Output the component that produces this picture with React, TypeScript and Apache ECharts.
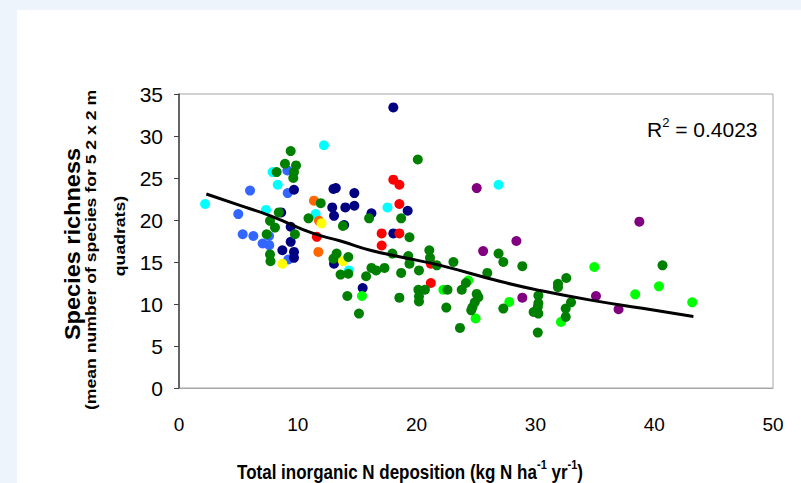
import React, { useEffect, useRef } from "react";
import * as echarts from "echarts";

type Pt = [number, number];

// Points, grouped by marker colour
const lightBluePoints: Pt[] = [
  [5.98, 23.5], [4.99, 20.7], [5.36, 18.3], [6.26, 18.1], [9.12, 25.9], [9.15, 23.2],
  [7.58, 18.1], [7.04, 17.2], [7.6, 17.0], [9.2, 15.3],
];
const navyPoints: Pt[] = [
  [8.6, 20.9], [9.68, 23.6], [9.4, 19.2], [13.0, 23.7], [13.2, 23.8], [12.9, 21.5],
  [13.05, 20.5], [14.0, 21.5], [14.76, 23.2], [14.76, 21.7], [13.9, 19.4], [16.2, 20.8],
  [8.7, 16.4], [9.4, 17.4], [9.68, 16.2], [9.68, 15.5], [13.05, 14.8], [15.46, 11.9],
  [18.04, 33.4], [19.25, 21.1], [18.04, 18.4],
];
const cyanPoints: Pt[] = [
  [2.2, 21.9], [7.32, 21.2], [7.88, 25.7], [8.31, 24.2], [12.2, 28.9], [11.5, 20.7],
  [14.3, 14.0], [17.55, 21.5], [26.9, 24.2],
];
const orangePoints: Pt[] = [[11.36, 22.3], [11.78, 19.9], [11.73, 16.2]];
const yellowPoints: Pt[] = [[12.0, 19.6], [8.7, 14.8], [13.8, 15.1]];
const redPoints: Pt[] = [
  [11.6, 18.0], [18.04, 24.8], [18.55, 24.2], [18.55, 21.9], [17.06, 18.4], [18.55, 18.4],
  [17.06, 16.96], [21.2, 14.8], [21.2, 12.5],
];
const purplePoints: Pt[] = [
  [25.06, 23.8], [28.4, 17.5], [25.6, 16.3], [28.9, 10.75], [38.75, 19.8], [35.1, 10.95], [37.0, 9.37],
];
const brightGreenPoints: Pt[] = [
  [15.4, 10.95], [22.25, 11.7], [24.35, 12.8], [24.97, 8.27], [27.8, 10.25], [34.96, 14.4],
  [40.4, 12.1], [38.4, 11.15], [43.2, 10.2], [32.15, 7.87],
];
const greenPoints: Pt[] = [
  [8.4, 20.9], [7.66, 19.9], [8.08, 19.1], [9.76, 18.3], [7.38, 18.3], [8.22, 25.7],
  [8.92, 26.7], [9.4, 28.2], [9.85, 26.5], [9.68, 25.7], [9.62, 25.0], [11.93, 22.0],
  [10.9, 20.2], [13.8, 19.3], [16.0, 20.2], [7.66, 15.9], [7.7, 15.1], [13.27, 16.0],
  [13.0, 15.4], [14.25, 15.6], [14.25, 13.6], [13.6, 13.5], [14.17, 10.95], [15.15, 8.86],
  [15.75, 13.3], [20.1, 27.2], [18.7, 20.2], [19.4, 17.95], [17.96, 16.0], [19.3, 15.7],
  [21.07, 16.4], [21.13, 15.5], [19.4, 14.8], [21.7, 14.6], [23.1, 15.0], [26.9, 16.0],
  [27.3, 15.0], [28.9, 14.5], [25.95, 13.7], [16.2, 14.3], [16.6, 14.0], [17.3, 14.3],
  [18.7, 13.7], [20.2, 14.0], [20.15, 11.7], [20.7, 11.7], [20.2, 10.9], [20.2, 10.3],
  [22.6, 11.7], [23.8, 11.7], [24.15, 12.5], [25.06, 11.2], [25.2, 10.8], [24.9, 10.2],
  [24.7, 9.6], [24.6, 9.25], [22.5, 9.57], [23.65, 7.15], [18.55, 10.75], [27.3, 9.45],
  [30.25, 11.0], [29.85, 9.05], [30.2, 6.6], [40.7, 14.6], [32.6, 13.1], [31.9, 12.4],
  [31.9, 12.0], [33.0, 10.2], [32.55, 9.45], [32.55, 8.46], [30.25, 10.1], [30.2, 9.65],
  [30.25, 8.86],
];

// Fitted trend line
const trendX = [2.3, 5.0, 7.7, 11.3, 13.6, 16.1, 19.0, 22.0, 27.0, 30.4, 34.9, 39.0, 43.3];
const trendY = [23.1, 21.8, 20.5, 18.4, 17.5, 16.4, 15.5, 14.6, 12.7, 11.6, 10.4, 9.5, 8.5];

const xTicks = { min: 0, max: 50, interval: 10 };
const yTicks = { min: 0, max: 35, interval: 5 };

const FONT = "'Liberation Sans', Arial, Helvetica, sans-serif";

export default function App() {
  const ref = useRef<HTMLDivElement>(null);

  useEffect(() => {
    if (!ref.current) return;
    const chart = echarts.init(ref.current, null, { renderer: "svg" });

    const scatter = (name: string, data: Pt[], color: string) => ({
      name,
      type: "scatter",
      data,
      symbol: "circle",
      symbolSize: 10,
      itemStyle: { color, opacity: 1 },
      emphasis: { disabled: true },
    });

    chart.setOption({
      animation: false,
      backgroundColor: "transparent",
      textStyle: { fontFamily: FONT },
      grid: {
        left: 179,
        top: 94,
        width: 594,
        height: 294,
        show: true,
        borderColor: "#a6a6a6",
        borderWidth: 1,
        backgroundColor: "transparent",
      },
      xAxis: {
        type: "value",
        min: xTicks.min,
        max: xTicks.max,
        interval: xTicks.interval,
        axisLine: { show: true, onZero: false, lineStyle: { color: "#a6a6a6", width: 1 } },
        axisTick: { show: false },
        splitLine: { show: false },
        axisLabel: { color: "#000", fontSize: 19, fontFamily: FONT, margin: 27 },
      },
      yAxis: {
        type: "value",
        min: yTicks.min,
        max: yTicks.max,
        interval: yTicks.interval,
        axisLine: { show: true, onZero: false, lineStyle: { color: "#404040", width: 1.5 } },
        axisTick: { show: true, inside: false, length: 5, lineStyle: { color: "#404040", width: 1 } },
        splitLine: { show: false },
        axisLabel: { color: "#000", fontSize: 21, fontFamily: FONT, margin: 16 },
      },
      series: [
        scatter("lightblue", lightBluePoints, "#3366ff"),
        scatter("navy", navyPoints, "#000080"),
        scatter("cyan", cyanPoints, "#00ffff"),
        scatter("orange", orangePoints, "#ff6600"),
        scatter("yellow", yellowPoints, "#ffff00"),
        scatter("red", redPoints, "#ff0000"),
        scatter("purple", purplePoints, "#800080"),
        scatter("brightgreen", brightGreenPoints, "#00ff00"),
        scatter("green", greenPoints, "#008000"),
        {
          name: "trend",
          type: "line",
          data: trendX.map((x, i) => [x, trendY[i]]),
          smooth: true,
          showSymbol: false,
          symbol: "none",
          lineStyle: { color: "#000", width: 3 },
          z: 5,
          emphasis: { disabled: true },
        },
      ],
      graphic: [
        {
          type: "text",
          x: 647,
          y: 127.5,
          style: {
            text: "{a|R}{b|2}{a| = 0.4023}",
            fill: "#000",
            align: "left",
            verticalAlign: "middle",
            rich: {
              a: { fontSize: 21, fontFamily: FONT, fill: "#000", lineHeight: 24, verticalAlign: "bottom" },
              b: { fontSize: 13, fontFamily: FONT, fill: "#000", lineHeight: 24, verticalAlign: "top" },
            },
          },
        },
        {
          type: "text",
          x: 410,
          y: 470,
          scaleY: 1.2,
          style: {
            text: "{a|Total inorganic N deposition (kg N ha}{b|-1}{a| yr}{b|-1}{a|)}",
            fill: "#000",
            align: "center",
            verticalAlign: "middle",
            rich: {
              a: { fontSize: 17, fontWeight: "bold", fontFamily: FONT, fill: "#000", lineHeight: 20, verticalAlign: "bottom" },
              b: { fontSize: 11, fontWeight: "bold", fontFamily: FONT, fill: "#000", lineHeight: 20, verticalAlign: "top" },
            },
          },
        },
        {
          type: "text",
          x: 72,
          y: 244,
          rotation: Math.PI / 2,
          scaleX: 1.07,
          style: {
            text: "Species richness",
            fontSize: 22,
            fontWeight: "bold",
            fontFamily: FONT,
            fill: "#000",
            align: "center",
            verticalAlign: "middle",
          },
        },
        {
          type: "text",
          x: 91,
          y: 250,
          rotation: Math.PI / 2,
          scaleX: 1.26,
          style: {
            text: "(mean number of species for 5 2 x 2 m",
            fontSize: 14,
            fontWeight: "bold",
            fontFamily: FONT,
            fill: "#000",
            align: "center",
            verticalAlign: "middle",
          },
        },
        {
          type: "text",
          x: 120,
          y: 236,
          rotation: Math.PI / 2,
          scaleX: 1.26,
          style: {
            text: "quadrats)",
            fontSize: 14,
            fontWeight: "bold",
            fontFamily: FONT,
            fill: "#000",
            align: "center",
            verticalAlign: "middle",
          },
        },
      ],
    });

    return () => chart.dispose();
  }, []);

  return (
    <div style={{ position: "fixed", left: 0, top: 0, width: 801, height: 483, background: "#eef4fc", overflow: "hidden" }}>
      <div style={{ position: "absolute", left: 17, top: 10, right: 0, bottom: 0, background: "#ffffff" }} />
      <div ref={ref} style={{ position: "absolute", left: 0, top: 0, width: 801, height: 483 }} />
    </div>
  );
}
